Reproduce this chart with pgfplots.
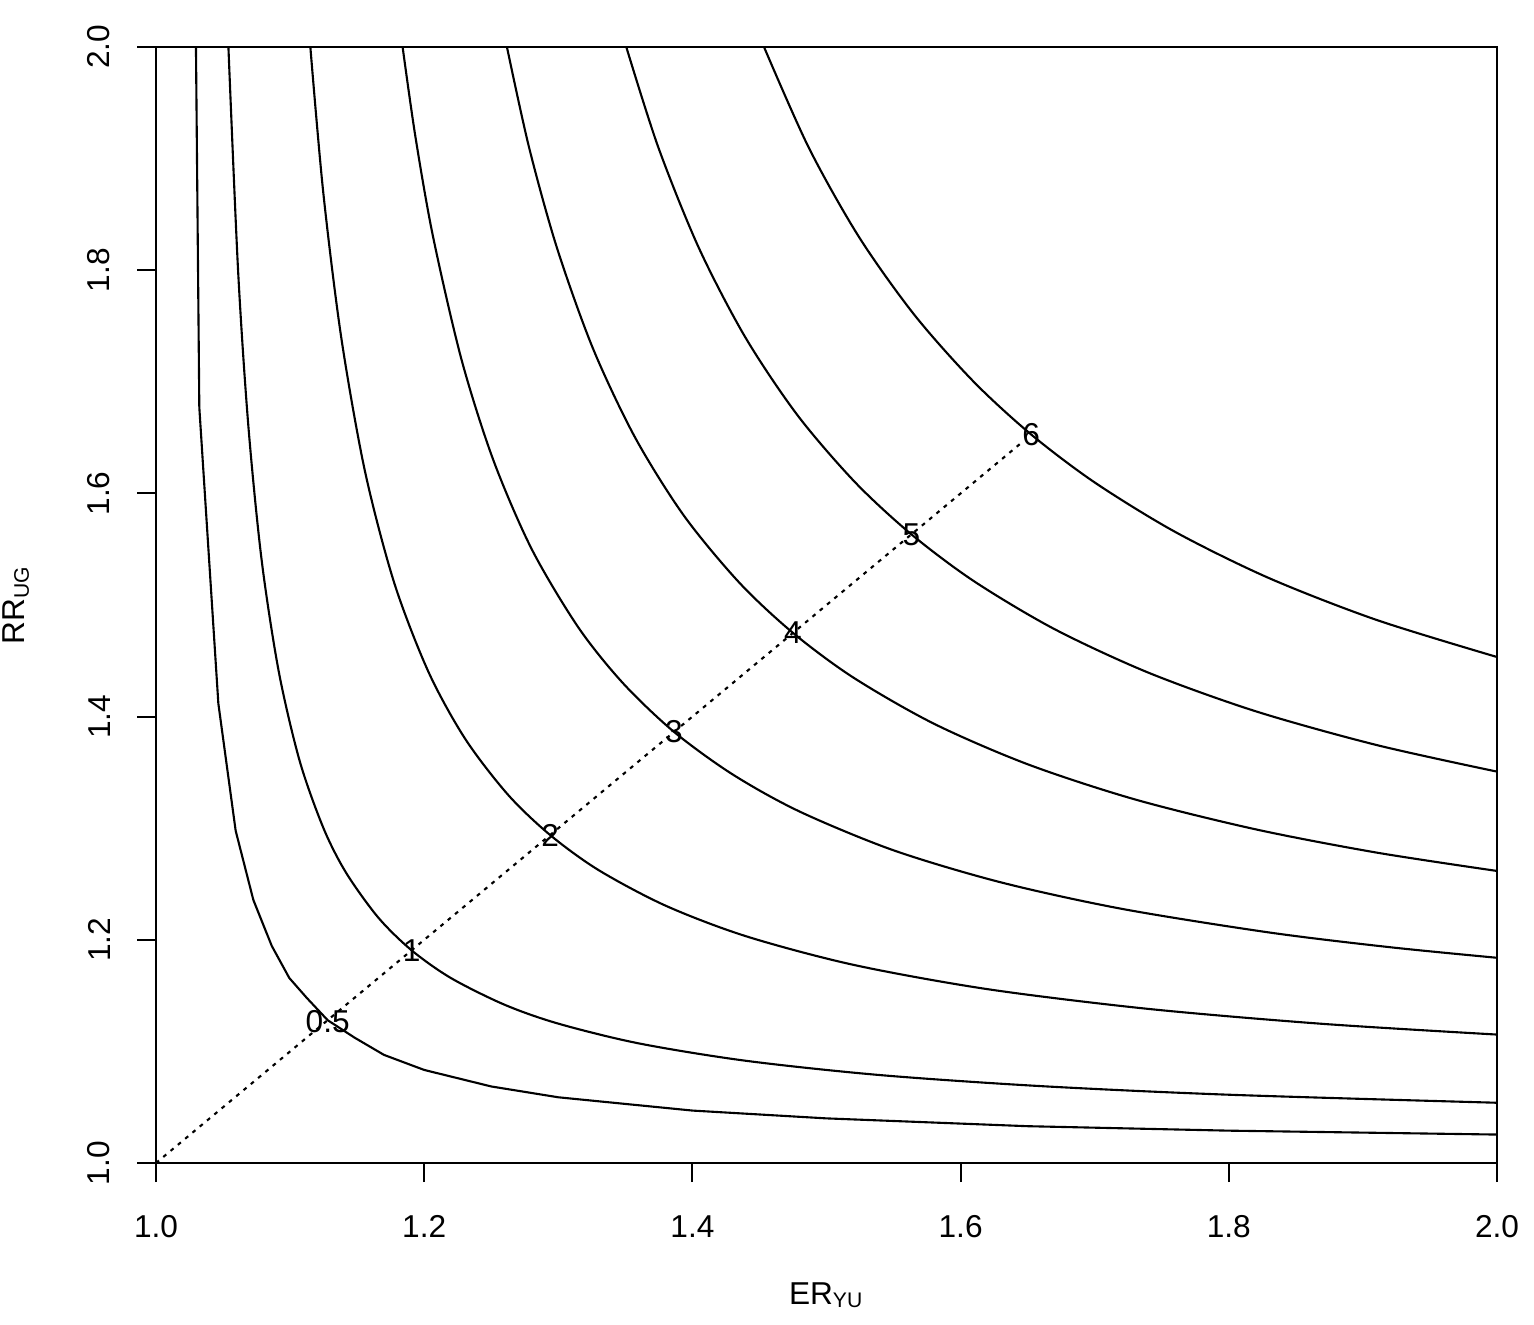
\documentclass[border=0pt]{standalone}
\usepackage{fontspec}
\setmainfont{Liberation Sans}
\usepackage{pgfplots}
\pgfplotsset{compat=1.18}
\newcommand{\plotfont}{\fontsize{9pt}{10pt}\selectfont}

\begin{document}
\begin{tikzpicture}
\begin{axis}[scale only axis, width=13.41cm, height=11.16cm,
  at={(0,0)}, anchor=south west,
  xmin=1, xmax=2, ymin=1, ymax=2,
  xtick={1,1.2,...,2.01}, ytick={1,1.2,...,2.01},
  tick pos=left, tick align=outside, major tick length=0.19cm,
  tick style={black, line width=0.6pt},
  axis line style={line width=0.6pt},
  /pgf/number format/assume math mode=true,
  /pgf/number format/.cd, fixed, fixed zerofill, precision=1, /pgfplots/.cd,
  tick label style={font=\plotfont},
  xticklabel style={anchor=north, inner sep=0pt},
  yticklabel style={rotate=90, anchor=south, inner sep=0pt},
  xticklabel shift=0.33cm, yticklabel shift=0.26cm,
  xlabel={ER\textsubscript{YU}}, ylabel={RR\textsubscript{UG}},
  every axis x label/.style={at={(axis description cs:0.5,0)}, anchor=base,
    inner sep=0pt, font=\plotfont, yshift=-1.41cm},
  every axis y label/.style={at={(axis description cs:-0.0977,0.5)}, anchor=base,
    inner sep=0pt, rotate=90, font=\plotfont},
]
% contour 0.5 (coarse grid near the asymptote)
\addplot[black, line width=0.6pt] coordinates {(1.0298,2.0) (1.0323,1.677) (1.0465,1.4117) (1.0594,1.2978)
  (1.0726,1.2357) (1.0863,1.1946) (1.0994,1.1658) (1.1124,1.148) (1.128,1.128)
  (1.148,1.1124) (1.17,1.0969) (1.20,1.0834) (1.25,1.0686) (1.30,1.0589)
  (1.40,1.0470) (1.50,1.0400) (1.65,1.0330) (1.80,1.0290) (2.0,1.0255)};
% contour 1
\addplot[black, line width=0.6pt, smooth] coordinates {(1.0540,2.0) (1.0612,1.80) (1.0689,1.66) (1.0788,1.54)
  (1.0916,1.44) (1.1072,1.36) (1.1249,1.30) (1.1418,1.26) (1.1657,1.22) (1.1906,1.1906)
  (1.22,1.1657) (1.26,1.1418) (1.30,1.1249) (1.36,1.1072) (1.44,1.0916) (1.54,1.0788)
  (1.66,1.0689) (1.80,1.0612) (2.0,1.0540)};
% contour 2
\addplot[black, line width=0.6pt, smooth] coordinates {(1.1151,2.0) (1.1247,1.87) (1.1381,1.74) (1.1558,1.62)
  (1.1776,1.52) (1.2032,1.44) (1.2306,1.38) (1.2625,1.33) (1.2939,1.2939) (1.33,1.2625)
  (1.38,1.2306) (1.44,1.2032) (1.52,1.1776) (1.62,1.1558) (1.74,1.1381) (1.87,1.1247)
  (2.0,1.1151)};
% contour 3
\addplot[black, line width=0.6pt, smooth] coordinates {(1.1839,2.0) (1.1934,1.92) (1.2066,1.83) (1.2278,1.72)
  (1.2515,1.63) (1.2802,1.55) (1.3149,1.48) (1.3482,1.43) (1.3863,1.3863) (1.43,1.3482)
  (1.48,1.3149) (1.55,1.2802) (1.63,1.2515) (1.72,1.2278) (1.83,1.2066) (1.92,1.1934)
  (2.0,1.1839)};
% contour 4
\addplot[black, line width=0.6pt, smooth] coordinates {(1.2617,2.0) (1.2782,1.91) (1.2990,1.82) (1.3258,1.73)
  (1.3573,1.65) (1.3937,1.58) (1.4350,1.52) (1.4750,1.4750) (1.52,1.4350) (1.58,1.3937)
  (1.65,1.3573) (1.73,1.3258) (1.82,1.2990) (1.91,1.2782) (2.0,1.2617)};
% contour 5
\addplot[black, line width=0.6pt, smooth] coordinates {(1.3507,2.0) (1.3746,1.91) (1.4048,1.82) (1.4394,1.74)
  (1.4784,1.67) (1.5213,1.61) (1.5633,1.5633) (1.61,1.5213) (1.67,1.4784) (1.74,1.4394)
  (1.82,1.4048) (1.91,1.3746) (2.0,1.3507)};
% contour 6
\addplot[black, line width=0.6pt, smooth] coordinates {(1.4534,2.0) (1.4867,1.91) (1.5241,1.83) (1.5655,1.76)
  (1.6098,1.70) (1.6527,1.6527) (1.70,1.6098) (1.76,1.5655) (1.83,1.5241) (1.91,1.4867)
  (2.0,1.4534)};
% diagonal
\addplot[black, line width=0.6pt, dash pattern=on 1.1pt off 1.6pt] coordinates {(1.0,1.0) (1.646,1.646)};
% contour labels
\addplot[draw=none, mark=none, point meta=explicit symbolic, nodes near coords,
  nodes near coords align={center},
  every node near coord/.style={inner sep=0pt, anchor=center, black, font=\plotfont}]
  coordinates {(1.128,1.127)[0.5] (1.1906,1.1906)[1] (1.2939,1.2939)[2]
  (1.3863,1.3863)[3] (1.4750,1.4750)[4] (1.5633,1.5633)[5] (1.6527,1.6527)[6]};
\end{axis}
\pgfresetboundingbox
\path (-1.56,-1.61) rectangle (13.78,11.63);
\end{tikzpicture}
\end{document}
